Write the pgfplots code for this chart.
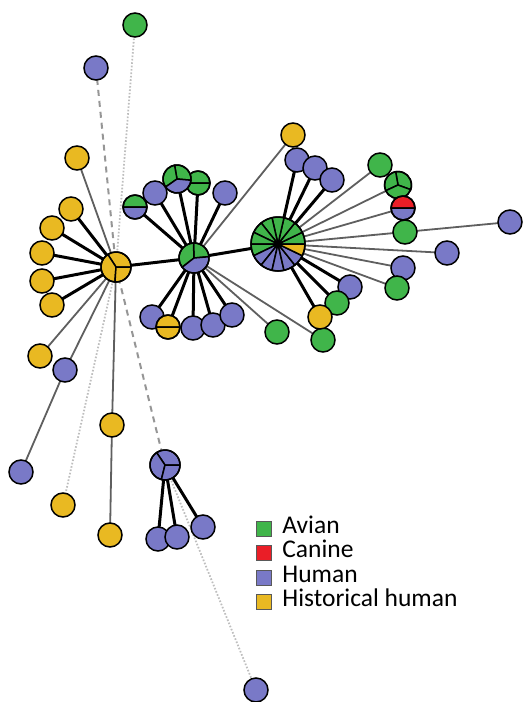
\documentclass[border=0pt]{standalone}
\usepackage{pgfplots}
\pgfplotsset{compat=1.18}
\usepackage{fontspec}
\setmainfont{Carlito}
\definecolor{cgreen}{RGB}{64,181,74}
\definecolor{cblue}{RGB}{121,121,199}
\definecolor{cyellow}{RGB}{233,185,34}
\definecolor{cred}{RGB}{234,30,39}
\definecolor{cedge}{RGB}{95,95,95}
\definecolor{cdash}{RGB}{150,150,150}
\definecolor{cdot}{RGB}{190,190,190}

\newcommand\pslice[4]{%
  \pgfpathmoveto{\pgfpointorigin}%
  \pgfpathlineto{\pgfpointpolar{#1}{#4}}%
  \pgfpatharc{#1}{#2}{#4}%
  \pgfpathclose
  \pgfsetfillcolor{#3}%
  \pgfusepath{fill,stroke}}
\newcommand\pring[1]{\pgfpathcircle{\pgfpointorigin}{#1}\pgfusepath{stroke}}
\newcommand\pstyle{\pgfsetlinewidth{1.5pt}\pgfsetstrokecolor{black}\pgfsetroundjoin}

\pgfdeclareplotmark{hubY}{\pstyle\pslice{0}{123}{cyellow}{15pt}\pslice{123}{266}{cyellow}{15pt}\pslice{266}{360}{cyellow}{15pt}\pring{15pt}}
\pgfdeclareplotmark{hubB}{\pstyle\pslice{0}{124}{cblue}{15pt}\pslice{124}{256}{cblue}{15pt}\pslice{256}{360}{cblue}{15pt}\pring{15pt}}
\pgfdeclareplotmark{hubC}{\pstyle\pslice{5}{92}{cgreen}{15pt}\pslice{92}{218}{cgreen}{15pt}\pslice{218}{365}{cblue}{15pt}\pring{15pt}}
\pgfdeclareplotmark{pieT}{\pstyle\pslice{-5}{100}{cgreen}{14pt}\pslice{100}{215}{cgreen}{14pt}\pslice{215}{355}{cblue}{14pt}\pring{14pt}}
\pgfdeclareplotmark{pieG}{\pstyle\pslice{-20}{100}{cgreen}{13.5pt}\pslice{100}{205}{cgreen}{13.5pt}\pslice{205}{340}{cgreen}{13.5pt}\pring{13.5pt}}
\pgfdeclareplotmark{halfGB}{\pstyle\pslice{0}{180}{cgreen}{12pt}\pslice{180}{360}{cblue}{12pt}\pring{12pt}}
\pgfdeclareplotmark{halfGG}{\pstyle\pslice{0}{180}{cgreen}{12pt}\pslice{180}{360}{cgreen}{12pt}\pring{12pt}}
\pgfdeclareplotmark{halfYY}{\pstyle\pslice{0}{180}{cyellow}{12pt}\pslice{180}{360}{cyellow}{12pt}\pring{12pt}}
\pgfdeclareplotmark{halfRB}{\pstyle\pslice{0}{180}{cred}{12pt}\pslice{180}{360}{cblue}{12pt}\pring{12pt}}
\pgfdeclareplotmark{big}{\pstyle
  \pslice{0}{25.714}{cgreen}{27pt}\pslice{25.714}{51.429}{cgreen}{27pt}%
  \pslice{51.429}{77.143}{cgreen}{27pt}\pslice{77.143}{102.857}{cgreen}{27pt}%
  \pslice{102.857}{128.571}{cgreen}{27pt}\pslice{128.571}{154.286}{cgreen}{27pt}%
  \pslice{154.286}{180}{cgreen}{27pt}\pslice{180}{205.714}{cgreen}{27pt}%
  \pslice{205.714}{231.429}{cblue}{27pt}\pslice{231.429}{257.143}{cblue}{27pt}%
  \pslice{257.143}{282.857}{cblue}{27pt}\pslice{282.857}{308.571}{cblue}{27pt}%
  \pslice{308.571}{334.286}{cblue}{27pt}\pslice{334.286}{360}{cyellow}{27pt}%
  \pring{27pt}}

\pgfplotsset{
 thick edge/.style={forget plot, mark=none, black, line width=3pt, line join=round, line cap=round},
 thin edge/.style={forget plot, mark=none, cedge, line width=1.8pt, line join=round, line cap=round},
 dash edge/.style={forget plot, mark=none, cdash, line width=2pt, dash pattern=on 6pt off 5pt},
 dot edge/.style={forget plot, mark=none, cdot, line width=1.8pt, dash pattern=on 1.6pt off 1.8pt},
 nd/.style={forget plot, only marks, mark=*, mark size=12pt, mark options={fill=#1, draw=black, line width=1.5pt}},
 pie/.style={forget plot, only marks, mark=#1},
}

\begin{document}
\begin{tikzpicture}
\begin{axis}[width=523pt,height=702pt,scale only axis,
  xmin=0,xmax=523,ymin=0,ymax=702,y dir=reverse,clip=false,
  axis line style={draw=none},xtick=\empty,ytick=\empty,
  legend style={at={(axis cs:256,516.5)},anchor=north west,draw=none,fill=none,
    inner sep=0pt,outer sep=0pt,font=\fontsize{25.5}{25.5}\selectfont,
    row sep=0pt,column sep=10pt,
    nodes={inner sep=0pt,text height=16.5pt,text depth=8pt}},
  legend cell align=left,
  legend image code/.code={\draw[#1,line width=1.2pt] (0.6pt,-7.6pt) rectangle (15.8pt,7.6pt);}]

\addplot[forget plot, draw=none, mark=none] coordinates {(0,0) (523,702)};

% dotted and dashed long edges
\addplot[dot edge] coordinates {(135,25) (116,267)};
\addplot[dot edge] coordinates {(116,267) (63,505)};
\addplot[dot edge] coordinates {(165,465) (256,690)};
\addplot[dash edge] coordinates {(96,68) (116,267)};
\addplot[dash edge] coordinates {(116,267) (165,465)};

% thin grey edges
\addplot[thin edge] coordinates {(116,267)(77,158)(116,267)(40,356)(116,267)(65,370)(21,472)(65,370)(116,267)(112,425)(110,535)};
\addplot[thin edge] coordinates {(194,258)(293,135)(194,258)(277,332)(194,258)(323,340)};
\addplot[thin edge] coordinates {(278,244)(380,165)(278,244)(398,185)(278,244)(403,208)(278,244)(405,232)(278,244)(510,222)(278,244)(447,253)(278,244)(403,268)(278,244)(397,288)};

% thick black edges
\addplot[thick edge] coordinates {(116,267)(71,209)(116,267)(52,228)(116,267)(42,253)(116,267)(42,281)(116,267)(52,305)(116,267)(194,258)};
\addplot[thick edge] coordinates {(194,258)(135,207)(194,258)(155,193)(194,258)(177,179)(194,258)(198,183)(194,258)(225,193)(194,258)(152,317)(194,258)(168,327)(194,258)(193,328)(194,258)(213,325)(194,258)(232,315)(194,258)(278,244)};
\addplot[thick edge] coordinates {(278,244)(297,160)(278,244)(315,168)(278,244)(332,180)(278,244)(350,287)(278,244)(337,303)(278,244)(320,317)};
\addplot[thick edge] coordinates {(165,465)(158,539)(165,465)(177,537)(165,465)(203,527)};

% single-isolate nodes
\addplot[nd=cblue] coordinates {(96,68)(155,193)(225,193)(297,160)(315,168)(332,180)(510,222)(447,253)(403,268)(350,287)(152,317)(193,328)(213,325)(232,315)(65,370)(21,472)(158,539)(177,537)(203,527)(256,690)};
\addplot[nd=cgreen] coordinates {(135,25)(380,165)(405,232)(397,288)(337,303)(277,332)(323,340)};
\addplot[nd=cyellow] coordinates {(77,158)(71,209)(52,228)(42,253)(42,281)(52,305)(40,356)(112,425)(63,505)(110,535)(293,135)(320,317)};

% multi-isolate nodes
\addplot[pie=halfGB] coordinates {(135,207)};
\addplot[pie=halfGG] coordinates {(198,183)};
\addplot[pie=pieT] coordinates {(177,179)};
\addplot[pie=halfYY] coordinates {(168,327)};
\addplot[pie=pieG] coordinates {(398,185)};
\addplot[pie=halfRB] coordinates {(403,208)};
\addplot[pie=hubY] coordinates {(116,267)};
\addplot[pie=hubB] coordinates {(165,465)};
\addplot[pie=hubC] coordinates {(194,258)};
\addplot[pie=big] coordinates {(278,244)};

\addlegendimage{fill=cgreen,draw=black!65}
\addlegendentry{Avian}
\addlegendimage{fill=cred,draw=black!65}
\addlegendentry{Canine}
\addlegendimage{fill=cblue,draw=black!65}
\addlegendentry{Human}
\addlegendimage{fill=cyellow,draw=black!65}
\addlegendentry{Historical human}
\end{axis}
\end{tikzpicture}
\end{document}
